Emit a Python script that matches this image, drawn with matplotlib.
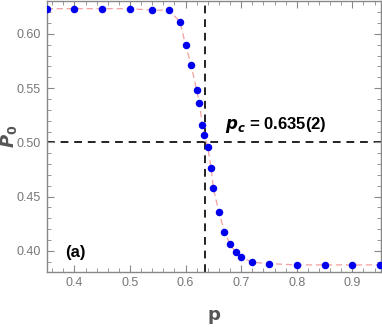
import matplotlib
matplotlib.use("Agg")
import matplotlib.pyplot as plt
from matplotlib.ticker import MultipleLocator
from matplotlib import font_manager

p = [0.35, 0.40, 0.45, 0.50, 0.54, 0.57, 0.59, 0.60, 0.61, 0.62, 0.625, 0.63, 0.634,
     0.64, 0.646, 0.65, 0.66, 0.67, 0.68, 0.69, 0.70, 0.72, 0.75, 0.80, 0.85, 0.90, 0.95]
P0 = [0.6233, 0.6233, 0.6233, 0.6233, 0.6220, 0.6218, 0.6113, 0.5899, 0.5715, 0.548, 0.5367,
      0.5162, 0.507, 0.4955, 0.4762, 0.4575, 0.4356, 0.4176, 0.4062, 0.3986, 0.3943, 0.3894,
      0.3882, 0.3870, 0.3870, 0.3870, 0.3870]
pc = 0.635
p_half = 0.50

names = {f.name for f in font_manager.fontManager.ttflist}
narrow = "Liberation Sans Narrow" in names
tickfont = "Liberation Sans Narrow" if narrow else "Liberation Sans"

fig = plt.figure(figsize=(3.82, 3.27), dpi=100)
ax = fig.add_axes([0.122, 0.169, 0.876, 0.829])

ax.plot(p, P0, linestyle=(0, (5, 3)), color="#f4a0a0", linewidth=0.9, zorder=2)
ax.plot(p, P0, linestyle="none", marker="o", markersize=4.4, color="#0000ee",
        markeredgecolor="#0000ee", zorder=3)
ax.axvline(pc, color="#222222", linestyle=(0, (4, 3)), linewidth=1.4, zorder=1)
ax.axhline(p_half, color="#222222", linestyle=(0, (4, 3)), linewidth=1.4, zorder=1)

ax.set_xlim(0.35, 0.952)
ax.set_ylim(0.3807, 0.6307)
ax.xaxis.set_minor_locator(MultipleLocator(0.02))
ax.yaxis.set_minor_locator(MultipleLocator(0.01))
ax.set_xticks([0.4, 0.5, 0.6, 0.7, 0.8, 0.9])
ax.set_xticklabels(["0.4", "0.5", "0.6", "0.7", "0.8", "0.9"])
ax.set_yticks([0.40, 0.45, 0.50, 0.55, 0.60])
ax.set_yticklabels(["0.40", "0.45", "0.50", "0.55", "0.60"])

gray = "#888888"
for s in ax.spines.values():
    s.set_color(gray)
    s.set_linewidth(1.0)
ax.tick_params(which="both", direction="in", top=True, right=True, colors=gray,
               labelcolor="#777777", labelsize=10 if narrow else 9)
ax.tick_params(which="major", length=5, width=0.8, pad=4)
ax.tick_params(which="minor", length=3, width=0.6)
for lab in ax.get_xticklabels() + ax.get_yticklabels():
    lab.set_family(tickfont)
    if not narrow:
        lab.set_stretch("condensed")

ax.set_xlabel("p", fontsize=13, fontweight="bold", color="#555555", labelpad=12)
ax.set_ylabel(r"$\mathbfit{P}_\mathbf{0}$", fontsize=13, color="#555555")
ax.yaxis.set_label_coords(-0.082, 0.5)

ax.text(0.671, 0.5126, r"$\mathbfit{p}_\mathbfit{c}$ = 0.635(2)", fontsize=12,
        fontweight="bold", color="black", family="Liberation Sans")
ax.text(0.383, 0.3945, "(a)", fontsize=12, fontweight="bold", color="black",
        family="Liberation Sans")

fig.savefig("out.png", dpi=100)
